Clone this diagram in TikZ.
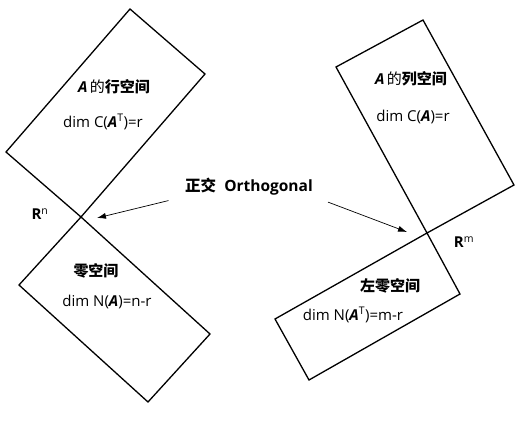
\documentclass[tikz,border=0pt]{standalone}
\usepackage{fontspec}
\setmainfont{Open Sans}
\newfontfamily\cjk{Noto Sans CJK SC}
\usetikzlibrary{arrows.meta,positioning,calc}

\newcommand{\matA}{\textbf{\textit{A}}}

\tikzset{
  space/.style={draw,line width=1.3pt,line join=miter},
  lbl/.style={font=\fontsize{15}{18}\selectfont,inner sep=1pt},
  ttl/.style={lbl,font=\fontsize{15}{18}\selectfont\bfseries},
  pointer/.style={-{Latex[length=9pt,width=6pt]},line width=0.7pt},
}

\begin{document}
\begin{tikzpicture}[x=1pt,y=-1pt]
  \useasboundingbox (0,0) rectangle (523,423);
  % the two meeting points
  \coordinate (Rn) at (81,217);
  \coordinate (Rm) at (427,233);
  % four subspaces
  \draw[space] (130,9) -- (205,74) -- (Rn) -- (6,152) -- cycle;
  \draw[space] (Rn) -- (210,334) -- (148,402) -- (19,285) -- cycle;
  \draw[space] (423,20) -- (514,185) -- (Rm) -- (336,67) -- cycle;
  \draw[space] (Rm) -- (460,294) -- (309,380) -- (275,319) -- cycle;
  % texts
  \node[ttl] (row) at (114,87) {\matA\,{\cjk\mdseries 的}{\cjk 行空间}};
  \node[lbl] (rowdim) at (103,122) {dim C(\matA\textsuperscript{T})=r};
  \node[ttl] (col) at (411,79) {\matA\,{\cjk\mdseries 的}{\cjk 列空间}};
  \node[lbl] (coldim) at (413,117) {dim C(\matA)=r};
  \node[ttl] (null) at (96,271) {\cjk 零空间};
  \node[lbl] (nulldim) at (107,302) {dim N(\matA)=n-r};
  \node[ttl] (lnull) at (390,286) {\cjk 左零空间};
  \node[lbl] (lnulldim) at (353,315) {dim N(\matA\textsuperscript{T})=m-r};
  \node[ttl,font=\fontsize{15.5}{18}\selectfont\bfseries] (ortho) at (249,187) {{\cjk 正交}\ \ Orthogonal};
  \node[lbl] (rn) at (40,214) {\textbf{R}\textsuperscript{n}};
  \node[lbl] (rm) at (464,242) {\textbf{R}\textsuperscript{m}};
  % arrows to the meeting points
  \coordinate (ltip) at (97,218);
  \coordinate (rtip) at (407,232);
  \draw[pointer,shorten <=16pt] (ortho.south west) -- (ltip);
  \draw[pointer,shorten <=15pt] (ortho.south east) -- (rtip);
\end{tikzpicture}
\end{document}
